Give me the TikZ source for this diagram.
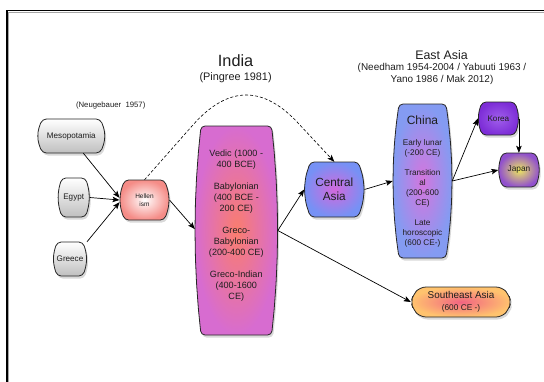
\documentclass[tikz,border=0pt]{standalone}
\usepackage{fontspec}
\setmainfont{Liberation Sans}
\usetikzlibrary{arrows.meta,shadows,calc}
\newcommand\fs[2]{\fontsize{#1}{#2}\selectfont}
% outline with bulging sides: cx cy w h bulge tlist style
\newcommand\bbox[7]{%
  \path[#7] ({#1},{#2-#4/2}) -- ({#1+#3/2-#5},{#2-#4/2})
    \foreach \t in {#6} { -- ({#1+#3/2-#5+#5*(1-(\t)*(\t))},{#2+(\t)*#4/2}) }
    -- ({#1+#3/2-#5},{#2+#4/2}) -- ({#1-#3/2+#5},{#2+#4/2})
    \foreach \t in {#6} { -- ({#1-#3/2+#5-#5*(1-(\t)*(\t))},{#2-(\t)*#4/2}) }
    -- ({#1-#3/2+#5},{#2-#4/2}) -- cycle;}
\definecolor{txt}{HTML}{1E1E1E}
\tikzset{
  shape base/.style={draw=black!85, line width=0.8pt, rounded corners=4pt,
    drop shadow={opacity=0.3, shadow xshift=1.5pt, shadow yshift=-2.5pt}},
  graybox/.style={shape base, top color=white, bottom color=black!25},
  hellenbox/.style={shape base, inner color=white, outer color={rgb,255:red,245;green,140;blue,135}},
  indiabox/.style={shape base, inner color={rgb,255:red,250;green,125;blue,110}, outer color={rgb,255:red,215;green,108;blue,208}},
  centralbox/.style={shape base, inner color={rgb,255:red,210;green,105;blue,220}, outer color={rgb,255:red,118;green,145;blue,245}},
  chinabox/.style={shape base, inner color={rgb,255:red,212;green,118;blue,222}, outer color={rgb,255:red,132;green,155;blue,242}},
  koreabox/.style={shape base, inner color={rgb,255:red,160;green,95;blue,235}, outer color={rgb,255:red,125;green,45;blue,215}},
  japanbox/.style={shape base, inner color={rgb,255:red,238;green,232;blue,95}, outer color={rgb,255:red,145;green,80;blue,205}},
  seabox/.style={shape base, rounded corners=6pt, inner color={rgb,255:red,242;green,100;blue,130}, outer color={rgb,255:red,255;green,195;blue,110}},
  bt/.style={inner sep=0pt, align=center, text=txt},
  lbl/.style={inner sep=0pt, align=center, text=txt},
  arr/.style={draw=black, line width=0.7pt, -{Stealth[length=7pt,width=5.5pt,inset=1.5pt]}},
}
\begin{document}
\begin{tikzpicture}[x=1pt,y=-1pt]
\useasboundingbox (0,0) rectangle (544,381);
% frame
\draw[line width=1.2pt, black!35] (8.6,395) -- (8.6,12.3) -- (560,12.3);
\draw[line width=1.4pt, black] (7,395) -- (7,10.7) -- (560,10.7);

% titles
\node[lbl, font=\fs{16.3}{19}] (indiat) at (235.6,61) {India};
\node[lbl, font=\fs{10.9}{13}] (pingree) at (235.6,77.5) {(Pingree 1981)};
\node[lbl, font=\fs{12.4}{14}] (eat) at (441.5,55) {East Asia};
\node[lbl, font=\fs{9.95}{11.7}] (needham) at (442,74) {(Needham 1954-2004 / Yabuuti 1963 /\\Yano 1986 / Mak 2012)};
\node[lbl, font=\fs{7.75}{9}] (neug) at (110.7,105) {(Neugebauer\ \ 1957)};

% boxes
\bbox{71.3}{136}{67.6}{34}{5}{-0.5,0,0.5}{graybox}
\node[bt, font=\fs{8.1}{10}, minimum width=67.6pt, minimum height=34pt] (meso) at (71.3,136) {Mesopotamia};
\bbox{73.7}{197.5}{31.6}{39}{4}{-0.5,0,0.5}{graybox}
\node[bt, font=\fs{8.1}{10}, minimum width=31.6pt, minimum height=39pt] (egypt) at (73.7,197.5) {Egypt};
\bbox{70}{259}{33.6}{34}{4}{-0.5,0,0.5}{graybox}
\node[bt, font=\fs{8.1}{10}, minimum width=33.6pt, minimum height=34pt] (greece) at (70,259) {Greece};
\bbox{144.5}{200}{49.6}{40}{5}{-0.5,0,0.5}{hellenbox}
\node[bt, font=\fs{6.5}{7.6}, minimum width=49.6pt, minimum height=40pt] (hellen) at (144.5,200) {Hellen\\ism};
\bbox{236.3}{230.5}{82.6}{209}{6}{-0.75,-0.5,-0.25,0,0.25,0.5,0.75}{indiabox}
\node[bt, font=\fs{9.1}{11}, minimum width=82.6pt, minimum height=209pt] (india) at (236.3,230.5)
  {Vedic (1000 -\\400 BCE)\\[11pt]Babylonian\\(400 BCE -\\200 CE)\\[11pt]Greco-\\Babylonian\\(200-400 CE)\\[11pt]Greco-Indian\\(400-1600\\CE)\\\mbox{}};
\bbox{334.3}{189.5}{60}{55}{6}{-0.5,0,0.5}{centralbox}
\node[bt, font=\fs{11.8}{14.5}, minimum width=60pt, minimum height=55pt] (central) at (334.3,189.5) {Central\\Asia};
\bbox{422.5}{181}{59}{154}{6}{-0.75,-0.5,-0.25,0,0.25,0.5,0.75}{chinabox}
\node[bt, font=\fs{8.2}{10}, minimum width=59pt, minimum height=154pt] (china) at (422.5,181)
  {{\fs{12}{14}China}\\[11pt]Early lunar\\(-200 CE)\\[10pt]Transition\\al\\(200-600\\CE)\\[10pt]Late\\horoscopic\\(600 CE-)};
\bbox{498.4}{118.5}{40.6}{33}{4}{-0.5,0,0.5}{koreabox}
\node[bt, font=\fs{8.1}{10}, minimum width=40.6pt, minimum height=33pt] (korea) at (498.4,118.5) {Korea};
\bbox{519}{170}{41}{34}{4}{-0.5,0,0.5}{japanbox}
\node[bt, font=\fs{8.3}{10}, minimum width=41pt, minimum height=34pt] (japan) at (519,170) {Japan};
\bbox{461}{302}{100}{30}{9}{-0.5,0,0.5}{seabox}
\node[bt, minimum width=100pt, minimum height=30pt] (sea) at (461,302) {{\fs{9.9}{12}Southeast Asia}\\{\fs{8.3}{10}(600 CE -)}};

% connectors
\draw[arr] (meso.-55) -- (hellen.175);
\draw[arr] (egypt.east) -- (hellen.west);
\draw[arr] (greece.north east) -- (hellen.185);
\draw[arr] (hellen.east) -- (india.178);
\draw[arr] (india.east) -- (central.west);
\draw[arr] (india.east) -- (sea.west);
\draw[arr] (central.east) -- (china.west);
\draw[arr] (china.east) -- (korea.west);
\draw[arr] (china.east) -- (japan.west);
\draw[arr] (korea.east) -- (korea.east |- japan.north);
\coordinate (d1) at (192.9,125);
\coordinate (c1) at (228.3,85);
\coordinate (c2) at (264,85);
\coordinate (d2) at (299.9,125);
\draw[arr, line width=0.6pt, dash pattern=on 3pt off 2pt] (hellen.north) -- (d1) .. controls (c1) and (c2) .. (d2) -- (central.north);
\end{tikzpicture}
\end{document}
